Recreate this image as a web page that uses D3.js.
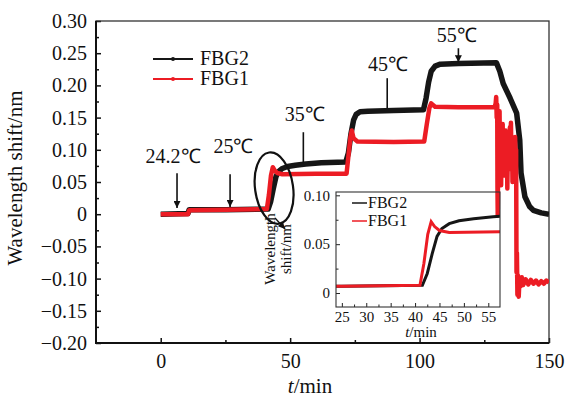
<!DOCTYPE html>
<html>
<head>
<meta charset="utf-8">
<script src="https://cdn.jsdelivr.net/npm/d3@7"></script>
<style>
body{margin:0;background:#fff;}
svg text{font-family:"Liberation Serif","Times New Roman",serif;fill:#111;}
</style>
</head>
<body>
<div id="canvas"></div>
<script>
// FBG2 (black)
var fbg2Time = [0,10.5,11,25,41.5,42.5,43.5,44.5,45.5,47,49,52,56,62,71.5,72.5,73.5,74.5,75.5,77,80,90,101.5,102.5,103.5,104.5,106,108,115,129.7,131,132.3,135,137.5,138.7,139.2,140.7,142.5,144,147,150];
var fbg2Shift = [0,0.001,0.007,0.007,0.008,0.02,0.04,0.058,0.066,0.071,0.074,0.076,0.078,0.08,0.081,0.095,0.125,0.146,0.155,0.159,0.16,0.161,0.162,0.18,0.205,0.222,0.23,0.233,0.234,0.235,0.222,0.203,0.18,0.157,0.115,0.064,0.027,0.012,0.006,0.002,0];

// FBG1 (red)
var fbg1Time = [0,10.5,11,25,41,41.8,42.6,43.3,44,45,47,60,71.8,72.5,73.3,73.8,74.5,76,90,101.8,102.8,103.8,104.5,106,115,129,
  129.4,129.6,129.8,130,130.1,130.2,130.3,130.5,130.7,130.9,131.1,131.3,131.5,131.7,131.9,132.1,132.3,132.5,132.7,132.9,133.1,133.3,133.5,133.7,133.9,
  134.1,134.3,134.5,134.7,134.9,135.1,135.3,135.5,135.7,135.9,136.1,136.3,136.5,136.7,136.9,137.1,137.3,137.45,137.6,137.8,138,138.3,138.6,139,139.5,
  140,141,142,143,144,145,146,147,148,149,150];
var fbg1Shift = [0,0,0.006,0.007,0.008,0.03,0.06,0.073,0.068,0.064,0.062,0.063,0.063,0.09,0.12,0.13,0.118,0.113,0.112,0.113,0.14,0.165,0.172,0.167,0.166,0.166,
  0.172,0.182,0.15,0.17,0.04,-0.002,0.06,0.15,0.09,0.16,0.07,0.135,0.045,0.12,0.085,0.14,0.07,0.125,0.06,0.11,0.08,0.13,0.065,0.115,0.04,
  0.1,0.075,0.12,0.085,0.135,0.095,0.142,0.07,0.12,0.05,0.1,0.06,0.11,0.075,0.12,0.09,0.1,-0.09,-0.06,-0.125,-0.095,-0.128,-0.1,-0.112,-0.098,
  -0.11,-0.101,-0.109,-0.102,-0.108,-0.103,-0.109,-0.104,-0.108,-0.103,-0.106];

var xTicks = [0,50,100,150];
var xMinor = [25,75,125];
var yTicks = [-0.2,-0.15,-0.1,-0.05,0,0.05,0.1,0.15,0.2,0.25,0.3];
var yMinor = [-0.175,-0.125,-0.075,-0.025,0.025,0.075,0.125,0.175,0.225,0.275];
var insetXTicks = [25,30,35,40,45,50,55];
var insetXMinor = [27.5,32.5,37.5,42.5,47.5,52.5];
var insetYTicks = [0,0.05,0.1];
var insetYMinor = [0.025,0.075];

var seriesNames = ["FBG2","FBG1"];
var seriesColors = ["#161616","#ec1c24"];

// temperature marks: label, arrow time, arrow tip value, line top value, text time, text value
var markLabels = ["24.2℃","25℃","35℃","45℃","55℃"];
var markTime = [6.3,26.8,55.1,87.5,115];
var markTip = [0.0096,0.0112,0.0792,0.1646,0.236];
var markTop = [0.0637,0.0621,0.1273,0.2112,0.2577];
var markTextTime = [4.75,28.1,55.6,87.8,114.4];
var markTextVal = [0.0792,0.0947,0.1444,0.2221,0.2671];
var markHead = [true,true,false,false,true];

var width = 566, height = 400;
var svg = d3.select("#canvas").append("svg")
  .attr("width", width).attr("height", height);

var defs = svg.append("defs");
defs.append("marker").attr("id","head").attr("viewBox","0 0 10 10")
  .attr("refX",10).attr("refY",5).attr("markerWidth",7).attr("markerHeight",7)
  .attr("markerUnits","userSpaceOnUse").attr("orient","auto")
  .append("path").attr("d","M0,0L10,5L0,10Z").attr("fill","#111");

var mLeft = 96, mRight = 549, mTop = 21, mBottom = 343;
var x = d3.scaleLinear().domain([-25,150]).range([mLeft,mRight]);
var y = d3.scaleLinear().domain([-0.2,0.3]).range([mBottom,mTop]);

defs.append("clipPath").attr("id","mainClip").append("rect")
  .attr("x",mLeft).attr("y",mTop).attr("width",mRight-mLeft).attr("height",mBottom-mTop);

function pts(ts, vs){
  var out = [];
  for(var i=0;i<ts.length;i++) out.push([ts[i], vs[i]]);
  return out;
}
var data2 = pts(fbg2Time, fbg2Shift);
var data1 = pts(fbg1Time, fbg1Shift);

var fmt = function(d){ return d === 0 ? "0" : d3.format(".2f")(d); };

// axes
svg.append("g").attr("transform","translate("+mLeft+",0)")
  .call(d3.axisLeft(y).tickValues(yTicks).tickSize(-5).tickPadding(9).tickFormat(fmt));
svg.append("g").attr("transform","translate("+mLeft+",0)")
  .call(d3.axisLeft(y).tickValues(yMinor).tickSize(-3).tickFormat(""));
svg.append("g").attr("transform","translate(0,"+mBottom+")")
  .call(d3.axisBottom(x).tickValues(xTicks).tickSize(-5).tickPadding(11).tickFormat(d3.format("d")));
svg.append("g").attr("transform","translate(0,"+mBottom+")")
  .call(d3.axisBottom(x).tickValues(xMinor).tickSize(-3).tickFormat(""));
svg.selectAll(".domain").remove();
svg.selectAll(".tick line").attr("stroke","#111").attr("stroke-width",1.5);
svg.selectAll(".tick text").style("font-size","20px").attr("font-family",null);

svg.append("rect").attr("x",mLeft).attr("y",mTop).attr("width",mRight-mLeft).attr("height",mBottom-mTop)
  .attr("fill","none").attr("stroke","#333").attr("stroke-width",1.3);
svg.append("path").attr("d","M"+mLeft+","+mTop+"V"+mBottom+"H"+mRight)
  .attr("fill","none").attr("stroke","#111").attr("stroke-width",2);

svg.append("text").attr("transform","translate(22,178) rotate(-90)")
  .attr("text-anchor","middle").style("font-size","21px").text("Wavelength shift/nm");
var xl = svg.append("text").attr("x",310).attr("y",393)
  .attr("text-anchor","middle").style("font-size","21px");
xl.append("tspan").style("font-style","italic").text("t");
xl.append("tspan").text("/min");

// main curves
var line = d3.line().x(function(d){return x(d[0]);}).y(function(d){return y(d[1]);});
var plot = svg.append("g").attr("clip-path","url(#mainClip)");
plot.append("path").datum(data2).attr("d",line).attr("fill","none")
  .attr("stroke",seriesColors[0]).attr("stroke-width",5.5).attr("stroke-linejoin","round");
plot.append("path").datum(data1).attr("d",line).attr("fill","none")
  .attr("stroke",seriesColors[1]).attr("stroke-width",4.5).attr("stroke-linejoin","round");

// legend
var legY = [59,79];
for(var i=0;i<2;i++){
  svg.append("line").attr("x1",153).attr("x2",193).attr("y1",legY[i]).attr("y2",legY[i])
    .attr("stroke",seriesColors[i]).attr("stroke-width",2);
  svg.append("circle").attr("cx",173).attr("cy",legY[i]).attr("r",2).attr("fill",seriesColors[i]);
  svg.append("text").attr("x",200).attr("y",legY[i]+6).style("font-size","20px").text(seriesNames[i]);
}

// temperature marks
for(var k=0;k<markLabels.length;k++){
  svg.append("line").attr("x1",x(markTime[k])).attr("x2",x(markTime[k]))
    .attr("y1",y(markTop[k])).attr("y2",y(markTip[k]))
    .attr("stroke","#111").attr("stroke-width",1.6)
    .attr("marker-end", markHead[k] ? "url(#head)" : null);
  svg.append("text").attr("x",x(markTextTime[k])).attr("y",y(markTextVal[k]))
    .attr("text-anchor","middle").style("font-size","20px").text(markLabels[k]);
}

// ellipse round the step and pointer to the inset
svg.append("ellipse").attr("cx",0).attr("cy",0).attr("rx",19).attr("ry",36)
  .attr("transform","translate("+x(43.8)+","+y(0.0405)+") rotate(-8)")
  .attr("fill","none").attr("stroke","#111").attr("stroke-width",2.2);
svg.append("line").attr("x1",275).attr("y1",218).attr("x2",285).attr("y2",229)
  .attr("stroke","#111").attr("stroke-width",1.3).attr("marker-end","url(#head)");

// inset
var iL = 336, iR = 500, iT = 192, iB = 307;
var ix = d3.scaleLinear().domain([23.8,57.4]).range([iL,iR]);
var iy = d3.scaleLinear().domain([-0.0143,0.1034]).range([iB,iT]);
defs.append("clipPath").attr("id","insetClip").append("rect")
  .attr("x",iL).attr("y",iT).attr("width",iR-iL).attr("height",iB-iT);

var inset = svg.append("g");
inset.append("g").attr("transform","translate("+iL+",0)")
  .call(d3.axisLeft(iy).tickValues(insetYTicks).tickSize(-4).tickPadding(6).tickFormat(fmt));
inset.append("g").attr("transform","translate("+iL+",0)")
  .call(d3.axisLeft(iy).tickValues(insetYMinor).tickSize(-2.5).tickFormat(""));
inset.append("g").attr("transform","translate(0,"+iB+")")
  .call(d3.axisBottom(ix).tickValues(insetXTicks).tickSize(-4).tickPadding(4).tickFormat(d3.format("d")));
inset.append("g").attr("transform","translate(0,"+iB+")")
  .call(d3.axisBottom(ix).tickValues(insetXMinor).tickSize(-2.5).tickFormat(""));
inset.selectAll(".domain").remove();
inset.selectAll(".tick line").attr("stroke","#222").attr("stroke-width",1);
inset.selectAll(".tick text").style("font-size","15px").attr("font-family",null);

var iline = d3.line().x(function(d){return ix(d[0]);}).y(function(d){return iy(d[1]);});
var iplot = inset.append("g").attr("clip-path","url(#insetClip)");
iplot.append("path").datum(data2).attr("d",iline).attr("fill","none")
  .attr("stroke",seriesColors[0]).attr("stroke-width",3);
iplot.append("path").datum(data1).attr("d",iline).attr("fill","none")
  .attr("stroke",seriesColors[1]).attr("stroke-width",3);
inset.append("rect").attr("x",iL).attr("y",iT).attr("width",iR-iL).attr("height",iB-iT)
  .attr("fill","none").attr("stroke","#333").attr("stroke-width",1.1);

var ilegY = [203,221];
for(var j=0;j<2;j++){
  inset.append("line").attr("x1",352).attr("x2",367).attr("y1",ilegY[j]).attr("y2",ilegY[j])
    .attr("stroke",seriesColors[j]).attr("stroke-width",1.5);
  inset.append("text").attr("x",368).attr("y",ilegY[j]+5).style("font-size","16px").text(seriesNames[j]);
}
var ixl = inset.append("text").attr("x",421).attr("y",337).attr("text-anchor","middle").style("font-size","15px");
ixl.append("tspan").style("font-style","italic").text("t");
ixl.append("tspan").text("/min");
inset.append("text").attr("transform","translate(275,249) rotate(-90)")
  .attr("text-anchor","middle").style("font-size","15px").text("Wavelength");
inset.append("text").attr("transform","translate(291,249) rotate(-90)")
  .attr("text-anchor","middle").style("font-size","15px").text("shift/nm");
</script>
</body>
</html>
